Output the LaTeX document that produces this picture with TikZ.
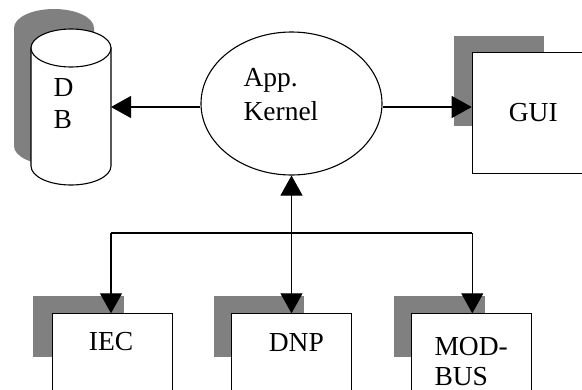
\documentclass[tikz,border=0pt]{standalone}
\usepackage{fontspec}
\setmainfont{Liberation Serif}
\usetikzlibrary{arrows.meta,shapes.geometric}
\definecolor{shadowgray}{RGB}{128,128,128}
\begin{document}
\begin{tikzpicture}[x=1pt,y=-1pt,line width=1.1pt,
  shadowfill/.style={fill=shadowgray,draw=none},
  box/.style={draw,fill=white,anchor=north west,inner sep=0pt},
  lbl/.style={anchor=base west,inner sep=0pt,font=\fontsize{27.5}{31}\selectfont},
  tip/.style={-{Triangle[length=20pt,width=22pt]}},
  bothtips/.style={{Triangle[length=20pt,width=22pt]}-{Triangle[length=20pt,width=22pt]}}]
\path[use as bounding box,clip] (0,0) rectangle (582,389);

% database cylinder with its shadow
\fill[shadowgray] (14,28) -- (14,146)
  arc[start angle=180,end angle=0,x radius=40,y radius=19] -- (94,28)
  arc[start angle=0,end angle=-180,x radius=40,y radius=19] -- cycle;
\filldraw[fill=white] (31,48) -- (31,166)
  arc[start angle=180,end angle=0,x radius=40,y radius=19] -- (111,48) -- cycle;
\filldraw[fill=white] (71,48) ellipse[x radius=40,y radius=19];
\coordinate (db) at (111,107);
\node[lbl] (t-d) at (53,96.7) {D};
\node[lbl] (t-b) at (53,128.3) {B};

% application kernel
\node[draw,ellipse,inner sep=0pt,minimum width=181pt,minimum height=143pt] (kernel) at (291.5,103.5) {};
\node[lbl] (t-app) at (243,86) {App.};
\node[lbl] (t-kernel) at (243,120) {Kernel};

% GUI
\fill[shadowgray] (454,35.7) rectangle (544,126);
\node[box,minimum width=140pt,minimum height=121pt] (gui) at (471.7,52.3) {};
\node[lbl] (t-gui) at (508.3,121.7) {GUI};

% protocol modules
\fill[shadowgray] (33,296) rectangle (124.3,356.7);
\node[box,minimum width=120pt,minimum height=95pt] (iec) at (51.7,313.3) {};
\node[lbl] (t-iec) at (88.3,350.5) {IEC};

\fill[shadowgray] (214,296) rectangle (304.3,356.7);
\node[box,minimum width=120pt,minimum height=95pt] (dnp) at (230.7,313.3) {};
\node[lbl] (t-dnp) at (268.3,351.5) {DNP};

\fill[shadowgray] (394.3,296) rectangle (485,356.7);
\node[box,minimum width=120pt,minimum height=95pt] (modbus) at (410.7,313.3) {};
\node[lbl] (t-mod) at (434,355) {MOD-};
\node[lbl] (t-bus) at (434,385.5) {BUS};

% connectors
\coordinate (k-w) at ([yshift=-3.5pt]kernel.west);
\coordinate (k-e) at ([yshift=-3.5pt]kernel.east);
\draw[tip] (k-w) -- (db);
\draw[tip] (k-e) -- (k-e -| gui.west);
\coordinate (bus-l) at (111,233);
\coordinate (bus-r) at (472.3,233);
\draw (bus-l) -- (bus-r);
\draw[tip] (bus-l) -- (bus-l |- iec.north);
\draw[tip] (bus-r) -- (bus-r |- modbus.north);
\draw[bothtips] (kernel.south) -- (kernel.south |- dnp.north);
\end{tikzpicture}
\end{document}
